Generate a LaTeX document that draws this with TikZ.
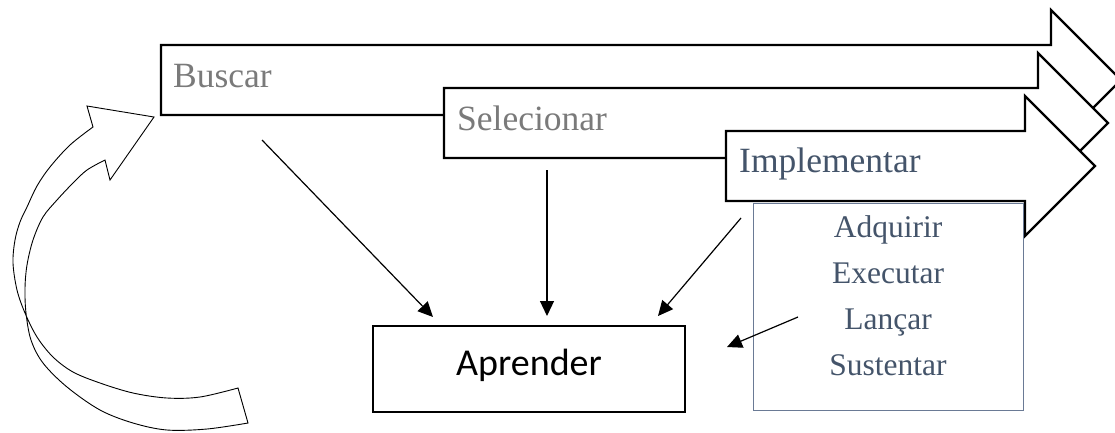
\documentclass[tikz,border=0pt]{standalone}
\usepackage{fontspec}
\setmainfont{Liberation Serif}
\newfontfamily\calibrisub{Carlito}
\usetikzlibrary{arrows.meta}
\definecolor{stepgrey}{HTML}{7A7A7A}
\definecolor{slatetext}{HTML}{44546A}
\definecolor{slateline}{HTML}{6A7A95}
\tikzset{
  blockarrow/.style={draw=black, fill=white, line width=2.2pt, line join=miter},
  looparrow/.style={draw=black, fill=white, line width=0.9pt, line join=miter},
  steplabel/.style={anchor=base west, inner sep=0pt, font=\fontsize{35.5}{40}\selectfont},
  sublabel/.style={anchor=base, inner sep=0pt, text=slatetext, font=\fontsize{31.5}{38}\selectfont},
  flow/.style={draw=black, line width=1.2pt, -{Triangle[length=15pt,width=14pt]}},
}
% block arrow: left edge, top edge, shoulder x (body 70 high, head 140 high, 70 long)
\newcommand\stagearrow[3]{%
  \path[blockarrow] (#1,#2) -- (#3,#2) -- (#3,#2-35) -- (#3+70,#2+35)
    -- (#3,#2+105) -- (#3,#2+70) -- (#1,#2+70) -- cycle;}
\begin{document}
\begin{tikzpicture}[x=1pt,y=-1pt]
\useasboundingbox (0,0) rectangle (1115,432);
\clip (0,0) rectangle (1115,432);

% curved return arrow on the left
\path[looparrow]
  (93,127) -- (87,106) -- (154,117) -- (110,180) -- (105,160)
  -- plot[smooth, tension=0.55] coordinates {(105,160) (87,170) (73,183) (57,200) (43,217)
     (33,240) (27,265) (25,288) (26,313) (31,340) (43,363) (67,387) (100,410)
     (133,423) (167,430) (207,429) (248,423)}
  -- (238,388)
  -- plot[smooth, tension=0.55] coordinates {(238,388) (200,397) (167,398) (133,393)
     (100,383) (73,372) (53,357) (37,337) (25,313) (17,290) (13,263) (15,240)
     (20,222) (27,207) (37,186) (50,167) (70,145) (93,127)}
  -- cycle;

% the three stages
\stagearrow{161}{45}{1051}
\stagearrow{444}{88}{1038}
\stagearrow{726}{131}{1025}
\node[steplabel, text=stepgrey] (buscar) at (173,87) {Buscar};
\node[steplabel, text=stepgrey] (selecionar) at (457,130) {Selecionar};
\node[steplabel, text=slatetext] (implementar) at (739,172) {Implementar};

% sub-steps of the implementation
\node[draw=slateline, fill=white, line width=0.9pt, minimum width=270pt,
      minimum height=207pt, inner sep=0pt] (subbox) at (888,306.5) {};
\node[sublabel] (adquirir) at (888,237) {Adquirir};
\node[sublabel] (executar) at (888,283) {Executar};
\node[sublabel] (lancar) at (888,329) {Lançar};
\node[sublabel] (sustentar) at (888,375) {Sustentar};

% learning box
\node[draw=black, line width=1.5pt, minimum width=312pt, minimum height=86pt,
      text height=20pt, text depth=8pt, inner sep=0pt,
      font=\calibrisub\fontsize{38}{44}\selectfont] (aprender) at (529,369) {Aprender};

% connectors into the learning box
\coordinate (fromBuscar) at (262,140);
\coordinate (toA) at (433,317);
\coordinate (fromSelecionar) at (547,170);
\coordinate (toB) at (547,316);
\coordinate (fromImplementar) at (741,218);
\coordinate (toC) at (658,316);
\coordinate (fromSub) at (798,317);
\coordinate (toD) at (727,347);
\draw[flow] (fromBuscar) -- (toA);
\draw[flow] (fromSelecionar) -- (toB);
\draw[flow] (fromImplementar) -- (toC);
\draw[flow] (fromSub) -- (toD);
\end{tikzpicture}
\end{document}
